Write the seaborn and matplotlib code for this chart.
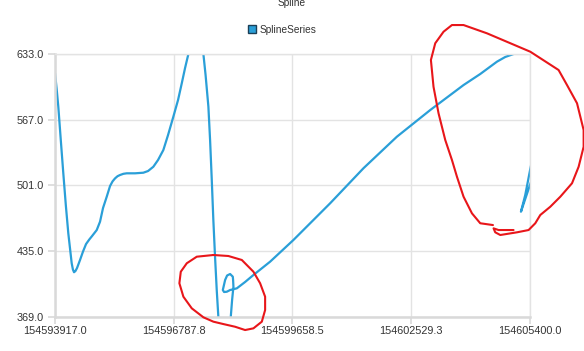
import matplotlib
matplotlib.use("Agg")
import matplotlib.pyplot as plt
from matplotlib.lines import Line2D
import seaborn as sns
import pandas as pd

# ---- data ----
title = "Spline"
series_name = "SplineSeries"

x_values = [
    154593917, 154593957, 154593997, 154594058, 154594118, 154594179, 154594239, 154594321,
    154594350, 154594377, 154594410, 154594450,
    154594522, 154594595, 154594668, 154594745, 154594813, 154594927, 154595007, 154595079,
    154595169, 154595249, 154595310, 154595370, 154595431, 154595491, 154595572, 154595653,
    154595854, 154596055, 154596169, 154596297, 154596411, 154596539, 154596653, 154596781,
    154596895, 154596985, 154597065, 154597145, 154597210, 154597307, 154597404, 154597476,
    154597508, 154597561, 154597629, 154597670, 154597711, 154597749, 154597790, 154597831,
    154597870, 154597911, 154597985, 154598082, 154598143, 154598171, 154598203,
    154598235, 154598227, 154598220, 154598155, 154598082, 154598034, 154597978,
    154598009, 154598075, 154598155, 154598317, 154598518, 154598719, 154599123,
    154599687, 154600576, 154601382, 154602191, 154602998, 154603804, 154604208,
    154604613, 154604813, 154605014, 154605176, 154605347, 154605541, 154605710,
    154605662, 154605468, 154605193, 154605297, 154605418, 154605515,
]
y_values = [
    613.6, 598.0, 580.1, 546.0, 513.1, 481.0, 452.8, 422.7,
    416.5, 413.7, 414.8, 417.9,
    425.9, 434.5, 442.0, 446.5, 450.0, 456.1, 464.5, 478.2,
    489.6, 500.3, 505.0, 508.0, 510.2, 511.4, 512.6, 513.1,
    513.1, 513.7, 515.4, 519.7, 526.5, 536.5, 551.6, 570.0,
    586.8, 603.6, 619.0, 633.0, 647.0, 654.0, 651.0, 642.0,
    633.0, 611.9, 580.1, 546.6, 506.4, 466.2, 429.3, 395.8,
    369.0, 350.6, 340.6, 345.6, 355.7, 369.0, 385.8,
    399.2, 405.9, 409.2, 411.9, 410.4, 405.9, 395.8,
    393.8, 394.1, 395.8, 397.5, 403.9, 410.9, 424.3,
    446.1, 483.0, 518.2, 549.9, 576.7, 601.8, 612.9,
    625.3, 630.0, 633.0, 637.0, 641.0, 645.0, 607.0,
    546.6, 508.4, 474.5, 491.3, 517.2, 536.5,
]

# hand-drawn red marks in the reference (data units)
mark1_x = [154597750, 154598113, 154598438, 154598719, 154598881, 154599002, 154599002,
           154598922, 154598719, 154598518, 154598276, 154597992, 154597750, 154597508,
           154597227, 154597024, 154596927, 154596961, 154597106, 154597348, 154597750]
mark1_y = [431.0, 430.0, 426.0, 414.2, 402.6, 389.1, 375.7,
           364.0, 357.3, 355.6, 358.9, 361.6, 364.0, 368.4,
           377.4, 389.1, 402.6, 414.2, 422.7, 429.3, 431.0]
mark2_x = [154604516, 154604208, 154604007, 154603804, 154603644, 154603523, 154603361,
           154603199, 154603077, 154603014, 154603119, 154603320, 154603523, 154603804,
           154604370, 154605419, 154606104, 154606308, 154606550, 154606710, 154606710,
           154606589, 154606429, 154606146, 154605903, 154605661, 154605540, 154605378,
           154605097, 154604693, 154604571, 154604530, 154604651, 154605014]
mark2_y = [461.1, 462.9, 472.9, 489.6, 509.7, 526.5, 546.6,
           573.4, 600.1, 627.0, 643.8, 655.4, 662.1, 662.1,
           653.8, 635.3, 616.9, 601.8, 583.5, 556.6, 539.8,
           519.7, 503.1, 489.6, 479.5, 471.2, 462.9, 456.1,
           453.8, 451.1, 453.8, 457.8, 456.1, 456.1]

x_ticks = [154593917.0, 154596787.8, 154599658.5, 154602529.3, 154605400.0]
x_tick_labels = ["154593917.0", "154596787.8", "154599658.5", "154602529.3", "154605400.0"]
y_ticks = [369.0, 435.0, 501.0, 567.0, 633.0]
y_tick_labels = ["369.0", "435.0", "501.0", "567.0", "633.0"]

# ---- drawing ----
sns.set_theme(style="white")
plt.rcParams["font.family"] = ["Liberation Sans", "DejaVu Sans"]

W, H = 584, 351
fig = plt.figure(figsize=(W / 100, H / 100), dpi=100)
left, right, top, bottom = 55, 529.5, 54, 316.7
ax = fig.add_axes([left / W, 1 - bottom / H, (right - left) / W, (bottom - top) / H])

line_color = "#2a9fd8"
df = pd.DataFrame({"x": x_values, "y": y_values})
sns.lineplot(data=df, x="x", y="y", sort=False, estimator=None, ax=ax,
             color=line_color, linewidth=1.6, legend=False,
             solid_joinstyle="round", solid_capstyle="round")

ax.set_xlim(x_ticks[0], x_ticks[-1])
ax.set_ylim(y_ticks[0], y_ticks[-1])
ax.set_xticks(x_ticks)
ax.set_xticklabels(x_tick_labels)
ax.set_yticks(y_ticks)
ax.set_yticklabels(y_tick_labels)
ax.set_xlabel("")
ax.set_ylabel("")

grid_c = "#e3e3e3"
ax.grid(True, color=grid_c, linewidth=1.0)
ax.set_axisbelow(True)
for s in ["top", "right"]:
    ax.spines[s].set_color(grid_c)
    ax.spines[s].set_linewidth(1.0)
for s in ["left", "bottom"]:
    ax.spines[s].set_color("#d9d9d9")
    ax.spines[s].set_linewidth(1.8)
ax.tick_params(axis="both", which="both", length=5, width=1.2, color="#d9d9d9",
               labelsize=7.8, labelcolor="#333333", left=True, bottom=True)
ax.tick_params(axis="x", pad=2)
ax.tick_params(axis="y", pad=3)

# red hand-drawn marks
ax.plot(mark1_x, mark1_y, color="#e8161a", linewidth=1.5, clip_on=False, zorder=5,
        solid_joinstyle="round")
ax.plot(mark2_x, mark2_y, color="#e8161a", linewidth=1.5, clip_on=False, zorder=5,
        solid_joinstyle="round")

# title (cut at top, as in the reference) and legend
fig.text(292 / W, 1 - 5.5 / H, title, ha="center", va="baseline", fontsize=7.3, color="#333333")
handle = Line2D([], [], linestyle="none", marker="s", markersize=5.5,
                markerfacecolor=line_color, markeredgecolor="#1b3f57", markeredgewidth=1.0)
fig.legend([handle], [series_name], loc="center", bbox_to_anchor=(282 / W, 1 - 30 / H),
           frameon=False, fontsize=7.3, handlelength=0.8, handletextpad=0.4,
           borderpad=0, labelcolor="#333333")

fig.savefig("out.png", dpi=100)
